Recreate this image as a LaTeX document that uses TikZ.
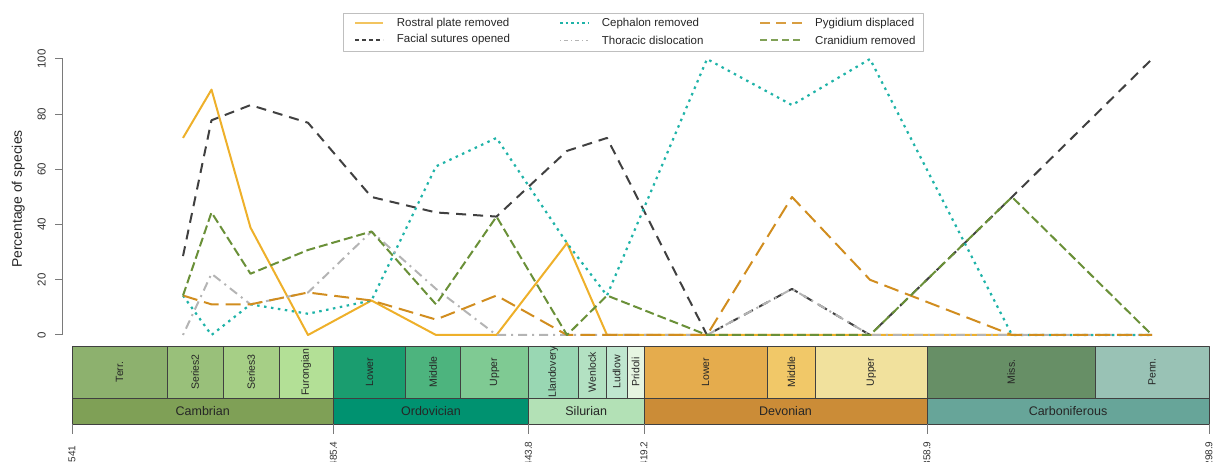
\documentclass[tikz,border=0pt]{standalone}
\usepackage{fontspec}
\setmainfont{Liberation Sans}
\usepackage{xcolor}
\usepackage{tikz}
\usetikzlibrary{positioning}

% series colours
\definecolor{rostral}{HTML}{EEB02A}
\definecolor{facial}{HTML}{404040}
\definecolor{cephalon}{HTML}{1FB3A8}
\definecolor{thoracic}{HTML}{B4B4B4}
\definecolor{pygidium}{HTML}{D18D1F}
\definecolor{cranidium}{HTML}{6A9038}
% time scale colours
\definecolor{terr}{HTML}{8DB16E}
\definecolor{series2}{HTML}{99C07A}
\definecolor{series3}{HTML}{A6CF86}
\definecolor{furongian}{HTML}{B3E096}
\definecolor{ordlower}{HTML}{1A9D6F}
\definecolor{ordmiddle}{HTML}{4DB47E}
\definecolor{ordupper}{HTML}{7FCA93}
\definecolor{llandovery}{HTML}{99D7B3}
\definecolor{wenlock}{HTML}{B3E1C2}
\definecolor{ludlow}{HTML}{BFE6CF}
\definecolor{pridoli}{HTML}{E6F5E1}
\definecolor{devlower}{HTML}{E5AC4D}
\definecolor{devmiddle}{HTML}{F1C868}
\definecolor{devupper}{HTML}{F1E19D}
\definecolor{miss}{HTML}{678F66}
\definecolor{penn}{HTML}{99C2B5}
\definecolor{cambrian}{HTML}{7FA056}
\definecolor{ordovician}{HTML}{009270}
\definecolor{silurian}{HTML}{B3E1B6}
\definecolor{devonian}{HTML}{CB8C37}
\definecolor{carboniferous}{HTML}{67A599}
\definecolor{axisgray}{HTML}{7A7A7A}

\begin{document}
\begin{tikzpicture}[x=1pt, y=-1pt, line join=round,
        rostralline/.style={rostral, line width=2pt},
        facialline/.style={facial, line width=2pt, dash pattern=on 10pt off 7pt},
        cephalonline/.style={cephalon, line width=2.2pt, dash pattern=on 2.5pt off 4.5pt},
        thoracicline/.style={thoracic, line width=2pt, dash pattern=on 2pt off 5pt on 9pt off 5pt},
        pygidiumline/.style={pygidium, line width=2pt, dash pattern=on 15pt off 7pt},
        cranidiumline/.style={cranidium, line width=2pt, dash pattern=on 9pt off 4pt},
        keyline/.style={line width=1.5pt},
        keytext/.style={anchor=west, inner sep=0pt, text=black!85, font=\fontsize{11.5}{13}\selectfont},
        stagebox/.style={draw=black!75, line width=0.6pt},
        stagelabel/.style={rotate=90, inner sep=0pt, text=black!85, font=\fontsize{10.5}{12}\selectfont},
        periodlabel/.style={inner sep=0pt, text=black!85, font=\fontsize{12.5}{14}\selectfont},
        ticklabel/.style={rotate=90, inner sep=0pt, text=black!80, font=\fontsize{11.5}{13}\selectfont},
        agelabel/.style={rotate=90, inner sep=0pt, text=black!80, font=\fontsize{10}{12}\selectfont}]

    \useasboundingbox (0,0) rectangle (1216,462);

    % legend
    \draw[black!25, line width=0.8pt] (343.3,13.3) rectangle (923.3,51);
    \draw[keyline, rostral!75, line width=1.8pt] (355,23.3) -- (383,23.3);
    \node (kRostral) [keytext] at (396.7,23.3) {Rostral plate removed};
    \draw[keyline, facial, dash pattern=on 4pt off 3pt] (355,40) -- (383,40);
    \node (kFacial) [keytext] at (396.7,40) {Facial sutures opened};
    \draw[keyline, cephalon, line width=1.8pt, dash pattern=on 2.5pt off 3pt] (560,23.3) -- (588,23.3);
    \node (kCephalon) [keytext] at (601.7,23.3) {Cephalon removed};
    \draw[keyline, thoracic, line width=0.9pt, dash pattern=on 1pt off 3pt on 4pt off 3pt] (560,40) -- (588,40);
    \node (kThoracic) [keytext] at (601.7,40) {Thoracic dislocation};
    \draw[keyline, pygidium!85, line width=1.8pt, dash pattern=on 10pt off 6pt] (760,23.3) -- (802,23.3);
    \node (kPygidium) [keytext] at (815,23.3) {Pygidium displaced};
    \draw[keyline, cranidium!85, line width=1.8pt, dash pattern=on 7pt off 4pt] (760,40) -- (802,40);
    \node (kCranidium) [keytext] at (815,40) {Cranidium removed};

    % y axis label
    \node (ylab) [rotate=90, inner sep=0pt, text=black!85, font=\fontsize{13.9}{16}\selectfont] at (18.3,199) {Percentage of species};

    % data part: y in percent
    \begin{scope}[shift={(0,335)}, y=2.76pt]
        \draw[axisgray, line width=1pt] (62.5,0) -- (62.5,100);
        \foreach \v in {0,20,...,100} {
            \draw[axisgray, line width=1pt] (55,\v) -- (62.5,\v);
            \node (yt\v) [ticklabel] at (41.7,\v) {\v};
        }

        \draw[rostralline] plot coordinates {(183,71.4) (211.5,88.9) (250.5,38.9) (308,0) (371.5,12.5) (436,0) (496.5,0) (567,33.3) (607,0) (707,0) (792,0) (870,0) (1012,0)};
        \draw[facialline] plot coordinates {(183,28.6) (211.5,77.8) (250.5,83.3) (308,76.9) (371.5,50) (436,44.4) (496.5,42.9) (567,66.7) (607,71.4) (707,0) (792,16.7) (870,0) (1012,50) (1152,100)};
        \draw[cephalonline] plot coordinates {(183,14.3) (211.5,0) (250.5,11.1) (308,7.7) (371.5,12.5) (436,61.1) (496.5,71.4) (567,33.3) (607,14.3) (707,100) (792,83.3) (870,100) (1012,0) (1152,0)};
        \draw[thoracicline] plot coordinates {(183,0) (211.5,22.2) (250.5,11.1) (308,15.4) (371.5,37.5) (436,16.7) (496.5,0) (567,0) (607,0) (707,0) (792,16.7) (870,0) (1012,0) (1152,0)};
        \draw[pygidiumline] plot coordinates {(183,14.3) (211.5,11.1) (250.5,11.1) (308,15.4) (371.5,12.5) (436,5.6) (496.5,14.3) (567,0) (607,0) (707,0) (792,50) (870,20) (1012,0) (1152,0)};
        \draw[cranidiumline] plot coordinates {(183,14.3) (211.5,44.4) (250.5,22.2) (308,30.8) (371.5,37.5) (436,11.1) (496.5,42.9) (567,0) (607,14.3) (707,0) (792,0) (870,0) (1012,50) (1152,0)};
    \end{scope}

    % time scale: stages
    \foreach \l/\r/\c/\lbl [count=\i] in {72/167/terr/Terr., 167/223/series2/Series2, 223/279/series3/Series3,
            279/333.5/furongian/Furongian, 333.5/405.5/ordlower/Lower, 405.5/460.5/ordmiddle/Middle,
            460.5/528.5/ordupper/Upper, 528.5/578/llandovery/Llandovery, 578/606/wenlock/Wenlock,
            606/627/ludlow/Ludlow, 627/644/pridoli/Pridoli, 644/767/devlower/Lower,
            767/815.5/devmiddle/Middle, 815.5/927/devupper/Upper, 927/1095/miss/Miss., 1095/1209/penn/Penn.} {
        \draw[stagebox, fill=\c] (\l,346.5) rectangle (\r,398);
        \node (st\i) [stagelabel] at ({(\l+\r)/2},372) {\lbl};
    }
    % time scale: periods
    \foreach \l/\r/\c/\lbl [count=\i] in {72/333.5/cambrian/Cambrian, 333.5/528.5/ordovician/Ordovician,
            528.5/644/silurian/Silurian, 644/927/devonian/Devonian, 927/1209/carboniferous/Carboniferous} {
        \draw[stagebox, fill=\c] (\l,398) rectangle (\r,424);
        \node (pe\i) [periodlabel] at ({(\l+\r)/2},411) {\lbl};
    }
    % age ticks
    \foreach \x/\lbl [count=\i] in {72/541, 333.5/485.4, 528.5/443.8, 644/419.2, 927/358.9, 1209/298.9} {
        \draw[axisgray, line width=1pt] (\x,424) -- (\x,434);
        \node (age\i) [agelabel] at (\x,454) {\lbl};
    }
\end{tikzpicture}
\end{document}
